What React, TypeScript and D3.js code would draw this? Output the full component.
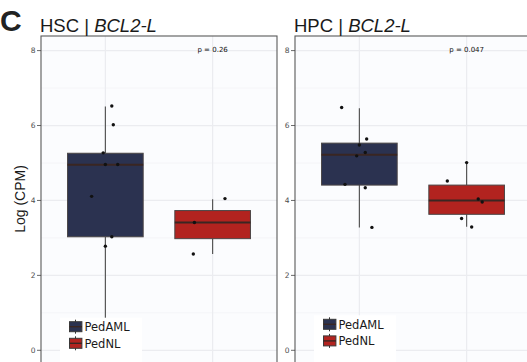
import React from 'react';
import * as d3 from 'd3';

// groups shown in both panels
const groups = ['PedAML', 'PedNL'];
const groupColors = ['#2b3250', '#b2231f'];
const yTicks = [0, 2, 4, 6, 8];
const yMinor = [1, 3, 5, 7];

// HSC panel, box stats: [low whisker, q1, median, q3, high whisker]
const hscStats = [
  [0.6, 3.03, 4.95, 5.26, 6.51],
  [2.57, 2.98, 3.41, 3.73, 4.03],
];
const hscAmlValues = [6.52, 6.02, 5.27, 4.96, 4.96, 4.11, 3.03, 2.78, 0.6];
const hscAmlJitter = [0.06, 0.074, -0.02, 0.0, 0.115, -0.128, 0.06, 0.0, 0.0];
const hscNlValues = [4.05, 3.41, 2.57];
const hscNlJitter = [0.115, -0.17, -0.18];

// HPC panel
const hpcStats = [
  [3.28, 4.41, 5.22, 5.53, 6.46],
  [3.3, 3.63, 4.0, 4.41, 5.01],
];
const hpcAmlValues = [6.48, 5.64, 5.48, 5.28, 5.19, 4.43, 4.34, 3.28];
const hpcAmlJitter = [-0.165, 0.068, 0.0, 0.055, -0.025, -0.134, 0.055, 0.117];
const hpcNlValues = [5.01, 4.52, 4.04, 3.96, 3.52, 3.29];
const hpcNlJitter = [0.0, -0.18, 0.108, 0.145, -0.047, 0.047];

const panels = [
  {
    cell: 'HSC', gene: 'BCL2-L', p: 'p = 0.26', left: 41, legendTop: 321.7,
    stats: hscStats,
    points: [[hscAmlValues, hscAmlJitter], [hscNlValues, hscNlJitter]],
  },
  {
    cell: 'HPC', gene: 'BCL2-L', p: 'p = 0.047', left: 295, legendTop: 319.3,
    stats: hpcStats,
    points: [[hpcAmlValues, hpcAmlJitter], [hpcNlValues, hpcNlJitter]],
  },
];

const W = 527, H = 362;
const panelW = 236, panelTop = 36, panelBottom = 372;
const sans = '"Liberation Sans", Arial, sans-serif';
const deja = '"DejaVu Sans", sans-serif';

const y = d3.scaleLinear().domain([0, 8]).range([350.3, 50.6]);

function Panel({ cfg }: { cfg: any }) {
  const x = d3.scalePoint().domain(groups).range([cfg.left, cfg.left + panelW]).padding(0.6);
  const step = x.step();
  const bw = step * 0.705;
  const x0 = cfg.left, x1 = cfg.left + panelW;
  const lgX = x0 + 28.5;
  return (
    <g>
      <rect x={x0} y={panelTop} width={panelW} height={panelBottom - panelTop} fill="#fbfcfe" />
      {yMinor.map(t => (
        <line key={'m' + t} x1={x0} x2={x1} y1={y(t)} y2={y(t)} stroke="#f2f3f6" strokeWidth={0.8} />
      ))}
      {yTicks.map(t => (
        <line key={'g' + t} x1={x0} x2={x1} y1={y(t)} y2={y(t)} stroke="#ebecf0" strokeWidth={1.2} />
      ))}
      {groups.map(g => (
        <line key={'v' + g} x1={x(g)} x2={x(g)} y1={panelTop} y2={panelBottom} stroke="#ebecf0" strokeWidth={1.2} />
      ))}
      {groups.map((g, i) => {
        const s = cfg.stats[i];
        const cx = x(g) as number;
        return (
          <g key={g}>
            <line x1={cx} x2={cx} y1={y(s[0])} y2={y(s[1])} stroke="#4a4a4a" strokeWidth={1.1} />
            <line x1={cx} x2={cx} y1={y(s[3])} y2={y(s[4])} stroke="#4a4a4a" strokeWidth={1.1} />
            <rect x={cx - bw / 2} y={y(s[3])} width={bw} height={y(s[1]) - y(s[3])}
              fill={groupColors[i]} stroke="#4a4545" strokeWidth={1} />
            <line x1={cx - bw / 2} x2={cx + bw / 2} y1={y(s[2])} y2={y(s[2])} stroke="#3a2622" strokeWidth={2} />
          </g>
        );
      })}
      {groups.map((g, i) => {
        const [vals, jit] = cfg.points[i];
        return vals.map((v: number, j: number) => (
          <circle key={g + j} cx={(x(g) as number) + jit[j] * step} cy={y(v)} r={1.7} fill="#111" />
        ));
      })}
      <rect x={x0} y={panelTop} width={panelW} height={panelBottom - panelTop} fill="none" stroke="#5a5a5a" strokeWidth={1.1} />
      {yTicks.map(t => (
        <g key={'t' + t}>
          <line x1={x0 - 4} x2={x0} y1={y(t)} y2={y(t)} stroke="#444" strokeWidth={0.8} />
          <text x={x0 - 5.5} y={y(t) + 2.6} textAnchor="end" fontSize={7.5} fontFamily={deja} fill="#4d4d4d">{t}</text>
        </g>
      ))}
      <text x={x(groups[1])} y={51.5} textAnchor="middle" fontSize={7} fontFamily={deja} fill="#111">{cfg.p}</text>
      <text x={x0 - 1} y={31.5} fontSize={18.5} fontFamily={sans} fill="#1a1a1a">
        {cfg.cell} | <tspan fontStyle="italic">{cfg.gene}</tspan>
      </text>
      <rect x={x0 + 19} y={cfg.legendTop - 4} width={82} height={H - cfg.legendTop + 4} fill="#ffffff" />
      {groups.map((g, i) => {
        const ky = cfg.legendTop + i * 16.6;
        return (
          <g key={'l' + g}>
            <line x1={lgX + 6} x2={lgX + 6} y1={ky - 2} y2={ky + 12} stroke="#333" strokeWidth={1} />
            <rect x={lgX} y={ky} width={12.4} height={10} fill={groupColors[i]} stroke="#3a3a3a" strokeWidth={1} />
            <line x1={lgX} x2={lgX + 12.4} y1={ky + 5} y2={ky + 5} stroke="#3a2622" strokeWidth={1.4} />
            <text x={lgX + 15} y={ky + 9.5} fontSize={11.5} fontFamily={deja} fill="#1a1a1a">{g}</text>
          </g>
        );
      })}
    </g>
  );
}

export default function App() {
  return (
    <svg width={W} height={H} style={{ position: 'absolute', left: 0, top: 0, background: '#fff' }}>
      <rect width={W} height={H} fill="#fff" />
      <text x={0} y={31} fontSize={30} fontWeight="bold" fontFamily={sans} fill="#222">C</text>
      <text transform={`translate(${24.5},${199}) rotate(-90)`} textAnchor="middle" fontSize={14} fontFamily={sans} fill="#1a1a1a">Log (CPM)</text>
      {panels.map(p => <Panel key={p.cell} cfg={p} />)}
    </svg>
  );
}
